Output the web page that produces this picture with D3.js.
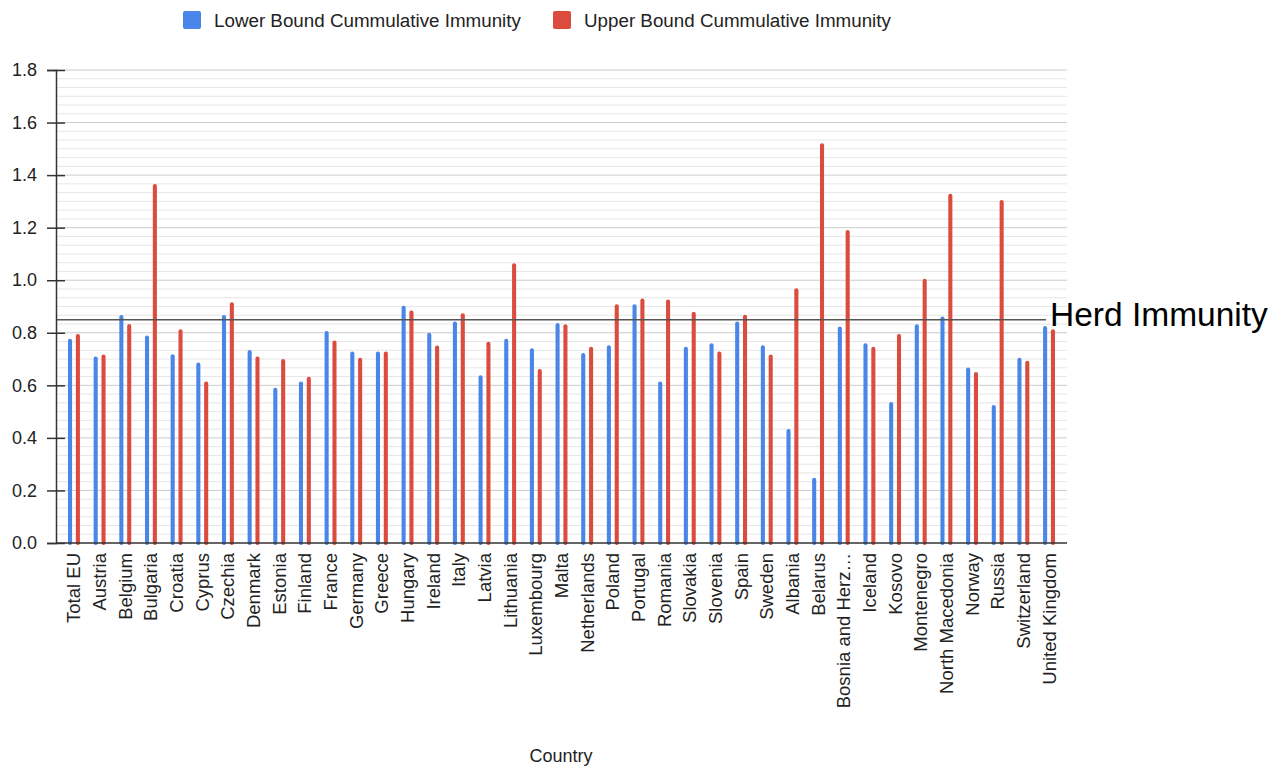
<!DOCTYPE html>
<html lang="en">
<head>
<meta charset="UTF-8">
<title>Cumulative Immunity</title>
<script src="https://d3js.org/d3.v7.min.js"></script>
<style>
  body { margin: 0; background: #fff; }
  svg text { font-family: "Liberation Sans", Arial, sans-serif; }
</style>
</head>
<body>
<div id="chart"></div>
<script>
"use strict";

// data
let countries = ['Total EU', 'Austria', 'Belgium', 'Bulgaria', 'Croatia', 'Cyprus', 'Czechia',
    'Denmark', 'Estonia', 'Finland', 'France', 'Germany', 'Greece', 'Hungary', 'Ireland', 'Italy',
    'Latvia', 'Lithuania', 'Luxembourg', 'Malta', 'Netherlands', 'Poland', 'Portugal', 'Romania',
    'Slovakia', 'Slovenia', 'Spain', 'Sweden', 'Albania', 'Belarus', 'Bosnia and Herz…', 'Iceland',
    'Kosovo', 'Montenegro', 'North Macedonia', 'Norway', 'Russia', 'Switzerland', 'United Kingdom'];

let lowerBound = [0.777, 0.710, 0.868, 0.790, 0.718, 0.687, 0.868, 0.734, 0.591, 0.615, 0.807,
    0.729, 0.729, 0.903, 0.800, 0.843, 0.638, 0.777, 0.741, 0.837, 0.723, 0.753, 0.909, 0.615,
    0.747, 0.760, 0.843, 0.753, 0.434, 0.248, 0.824, 0.760, 0.537, 0.832, 0.862, 0.668, 0.525,
    0.705, 0.826];

let upperBound = [0.795, 0.717, 0.833, 1.366, 0.813, 0.615, 0.916, 0.710, 0.700, 0.633, 0.771,
    0.705, 0.729, 0.885, 0.752, 0.874, 0.766, 1.065, 0.662, 0.832, 0.747, 0.909, 0.930, 0.927,
    0.880, 0.729, 0.869, 0.717, 0.969, 1.521, 1.191, 0.747, 0.795, 1.006, 1.329, 0.651, 1.305,
    0.694, 0.813];

let seriesNames = ['Lower Bound Cummulative Immunity', 'Upper Bound Cummulative Immunity'];
let seriesColours = ['#4a86e8', '#db4c3f'];
let yTicks = [0, 0.2, 0.4, 0.6, 0.8, 1.0, 1.2, 1.4, 1.6, 1.8];
let herdImmunity = 0.85;

let svgWidth = 1285, svgHeight = 766;
let plot = {left: 56, right: 1067, top: 70, bottom: 543};

function translate(x, y) {
    return 'translate(' + x + ', ' + y + ')';
}

let svg = d3.select('#chart').append('svg')
    .attr('width', svgWidth)
    .attr('height', svgHeight);

let x0 = d3.scaleBand()
    .domain(countries)
    .range([plot.left, plot.right])
    .paddingInner(0)
    .paddingOuter(0.2);

let x1 = d3.scaleBand()
    .domain([0, 1])
    .range([x0.bandwidth() / 2 - 7.85, x0.bandwidth() / 2 + 7.85])
    .paddingInner(0.48)
    .paddingOuter(0.24);

let y = d3.scaleLinear()
    .domain([0, 1.8])
    .range([plot.bottom, plot.top]);

// minor gridlines (6 per major step)
let minorTicks = d3.range(0, 54).map(i => i * 0.2 / 6).filter(v => Math.abs(v * 5 - Math.round(v * 5)) > 1e-6);
svg.append('g').selectAll('line')
    .data(minorTicks)
    .enter().append('line')
    .attr('x1', plot.left).attr('x2', plot.right)
    .attr('y1', d => y(d)).attr('y2', d => y(d))
    .attr('stroke', '#e6e6e6')
    .attr('stroke-width', 1);

// major gridlines
svg.append('g').selectAll('line')
    .data(yTicks.slice(1))
    .enter().append('line')
    .attr('x1', plot.left).attr('x2', plot.right)
    .attr('y1', d => y(d)).attr('y2', d => y(d))
    .attr('stroke', '#cccccc')
    .attr('stroke-width', 1);

// bars
let series = [lowerBound, upperBound];
let groups = svg.append('g').selectAll('g')
    .data(countries)
    .enter().append('g')
    .attr('transform', d => translate(x0(d), 0));

groups.selectAll('rect')
    .data((d, i) => series.map((s, k) => ({k: k, value: s[i]})))
    .enter().append('rect')
    .attr('x', d => x1(d.k))
    .attr('y', d => y(d.value))
    .attr('width', x1.bandwidth())
    .attr('height', d => y(0) - y(d.value) + 2)
    .attr('rx', 2)
    .attr('fill', d => seriesColours[d.k]);

// herd immunity line
svg.append('line')
    .attr('x1', plot.left).attr('x2', 1046)
    .attr('y1', y(herdImmunity)).attr('y2', y(herdImmunity))
    .attr('stroke', '#555')
    .attr('stroke-width', 1.5);

svg.append('text')
    .attr('x', 1050)
    .attr('y', y(herdImmunity) + 6.5)
    .attr('font-size', 33.5)
    .attr('fill', '#000')
    .text('Herd Immunity');

// y axis
let yAxis = d3.axisLeft(y)
    .tickValues(yTicks)
    .tickFormat(d3.format('.1f'))
    .tickSizeOuter(0)
    .tickSize(9)
    .tickPadding(10);

let yg = svg.append('g')
    .attr('transform', translate(plot.left, 0))
    .call(yAxis);
yg.select('.domain').attr('stroke', '#333').attr('stroke-width', 1.5);
yg.selectAll('.tick line').attr('x1', -9).attr('x2', 9).attr('stroke', '#333').attr('stroke-width', 1.5);
yg.selectAll('.tick text').attr('font-size', 18).attr('fill', '#222')
    .style('font-family', '"Liberation Sans", Arial, sans-serif');

// x axis
let xAxis = d3.axisBottom(x0).tickSize(0).tickSizeOuter(0).tickPadding(0);
let xg = svg.append('g')
    .attr('transform', translate(0, plot.bottom))
    .call(xAxis);
xg.select('.domain').attr('stroke', '#333').attr('stroke-width', 1.5)
    .attr('d', 'M' + plot.left + ',0H' + plot.right);
xg.selectAll('.tick text')
    .attr('transform', 'rotate(-90)')
    .attr('x', -10)
    .attr('y', 0)
    .attr('dy', '0.35em')
    .attr('text-anchor', 'end')
    .attr('font-size', 18.5)
    .attr('fill', '#222')
    .style('font-family', '"Liberation Sans", Arial, sans-serif');

// x axis title
svg.append('text')
    .attr('x', 561)
    .attr('y', 762)
    .attr('text-anchor', 'middle')
    .attr('font-size', 18)
    .attr('fill', '#222')
    .text('Country');

// legend
let legendX = [183, 553];
let legend = svg.append('g').selectAll('g')
    .data(seriesNames)
    .enter().append('g')
    .attr('transform', (d, i) => translate(legendX[i], 11));
legend.append('rect')
    .attr('width', 18).attr('height', 18).attr('rx', 2)
    .attr('fill', (d, i) => seriesColours[i]);
legend.append('text')
    .attr('x', 31).attr('y', 15.5)
    .attr('font-size', 18.8)
    .attr('fill', '#222')
    .text(d => d);
</script>
</body>
</html>
